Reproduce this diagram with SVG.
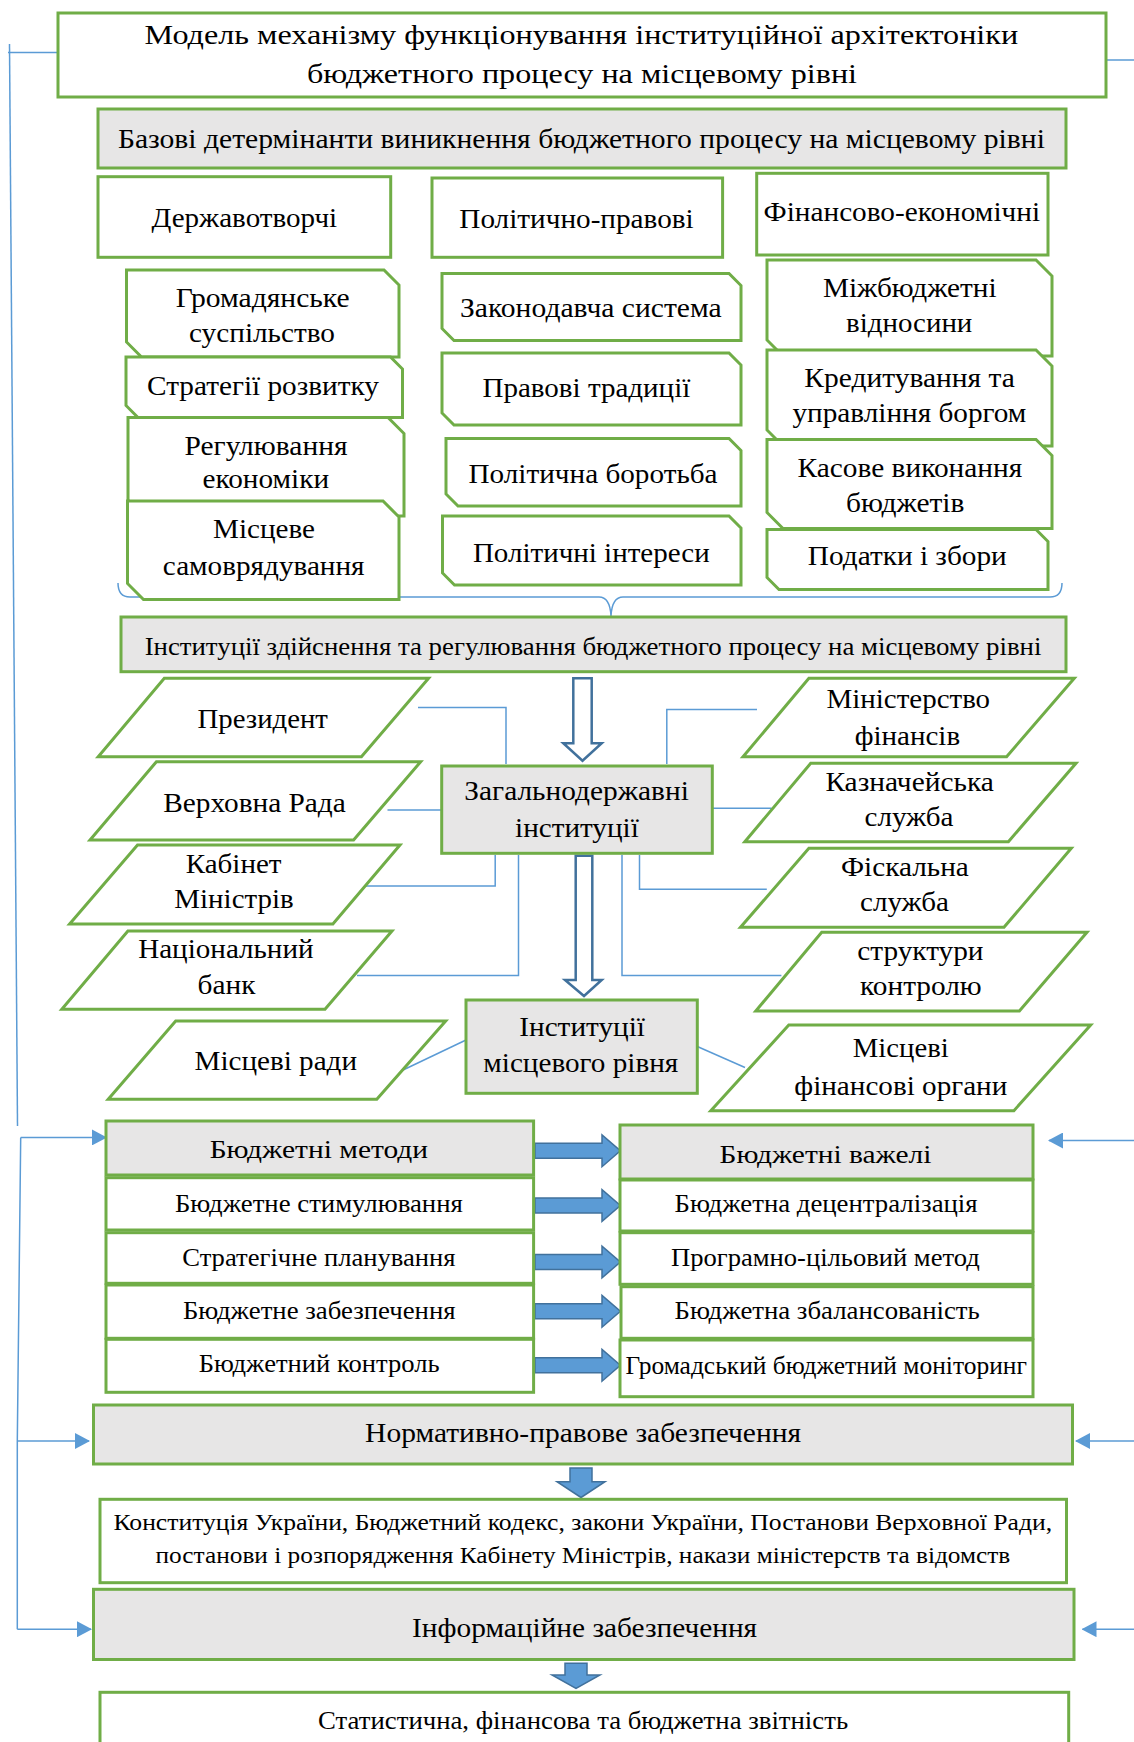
<svg xmlns="http://www.w3.org/2000/svg" width="1134" height="1742" viewBox="0 0 1134 1742">
  <style>
    .box { fill: #ffffff; stroke: #70AD47; stroke-width: 3; }
    .gray { fill: #E7E6E6; }
    .t { font-family: "Liberation Serif", "Times New Roman", serif; fill: #000000; text-anchor: middle; }
    .s28 { font-size: 28px; }
    .s27 { font-size: 27px; }
    .s26 { font-size: 26px; }
    .s25 { font-size: 25px; }
    .s24 { font-size: 24px; }
    .ln { fill: none; stroke: #5B9BD5; stroke-width: 1.5; }
    .hollow { fill: #ffffff; stroke: #41719C; stroke-width: 2.5; }
    .solid { fill: #5B9BD5; stroke: #41719C; stroke-width: 1.5; }
  </style>
  <defs>
    <marker id="tri" markerUnits="userSpaceOnUse" markerWidth="15" markerHeight="16" refX="14" refY="8" orient="auto">
      <path d="M0,0 L15,8 L0,16 z" fill="#5B9BD5"/>
    </marker>
  </defs>

  <!-- connectors -->
  <g id="connectors">
    <!-- outer feedback lines -->
    <path class="ln" d="M8,52.4 H58"/>
    <path class="ln" d="M9.5,44 L17.5,1126"/>
    <path class="ln" d="M1106,60 H1134"/>
    <path class="ln" d="M20.7,1137.4 L17.3,1441 V1629.2"/>
    <path class="ln" d="M20.7,1137.4 H106" marker-end="url(#tri)"/>
    <path class="ln" d="M17.3,1441 H89" marker-end="url(#tri)"/>
    <path class="ln" d="M17.3,1629.2 H91" marker-end="url(#tri)"/>
    <path class="ln" d="M1134,1140.5 H1049" marker-end="url(#tri)"/>
    <path class="ln" d="M1134,1441 H1076" marker-end="url(#tri)"/>
    <path class="ln" d="M1134,1629.2 H1082.5" marker-end="url(#tri)"/>

    <!-- brace under the determinants -->
    <path class="ln" d="M118,583 Q118,597 130,597 L599,597 Q610,597 611,616 Q612,597 623,597 L1050,597 Q1062,597 1062,583"/>

    <!-- hollow arrows -->
    <polygon class="hollow" points="573.3,678.3 591.7,678.3 591.7,743.3 601.7,743.3 582.5,760.7 563.3,743.3 573.3,743.3"/>
    <polygon class="hollow" points="575.7,855.7 592.3,855.7 592.3,980 601.7,980 584,996 565,980 575.7,980"/>

    <!-- links to state institutions -->
    <path class="ln" d="M418,707.5 H506 V764"/>
    <path class="ln" d="M387.5,810 H441.8"/>
    <path class="ln" d="M495.2,855 V886 H366"/>
    <path class="ln" d="M518.5,855 V975.5 H357"/>
    <path class="ln" d="M757,709.5 H666.8 V764"/>
    <path class="ln" d="M712,808.3 H771.6"/>
    <path class="ln" d="M639.5,855 V889.3 H766.8"/>
    <path class="ln" d="M622,855 V975.5 H781.4"/>
    <path class="ln" d="M466,1040 L402,1070.5"/>
    <path class="ln" d="M697.3,1046.5 L745,1067.5"/>

    <!-- method to lever arrows -->
    <polygon class="solid" points="535,1143.3 602,1143.3 602,1135 620.4,1150.8 602,1166.7 602,1158.3 535,1158.3"/>
    <polygon class="solid" points="535,1198 602,1198 602,1189.7 620.4,1205.5 602,1221.4 602,1213 535,1213"/>
    <polygon class="solid" points="535,1254.5 602,1254.5 602,1246.2 620.4,1262 602,1277.9 602,1269.5 535,1269.5"/>
    <polygon class="solid" points="535,1303.8 602,1303.8 602,1295.5 620.4,1311.3 602,1327.2 602,1318.8 535,1318.8"/>
    <polygon class="solid" points="535,1357.8 602,1357.8 602,1349.5 620.4,1365.3 602,1381.2 602,1372.8 535,1372.8"/>

    <!-- downward arrows -->
    <polygon class="solid" points="570,1468 592,1468 592,1481.7 605,1481.7 581,1497.5 557,1481.7 570,1481.7"/>
    <polygon class="solid" points="565,1663.3 587,1663.3 587,1675 600,1675 576,1688.5 552,1675 565,1675"/>
  </g>

  <!-- header -->
  <g id="title">
    <rect class="box" x="58" y="13" width="1048" height="84"/>
    <text class="t s28" x="581.4" y="43.5" textLength="873.6" lengthAdjust="spacingAndGlyphs">Модель механізму функціонування інституційної архітектоніки</text>
    <text class="t s28" x="582" y="82.5" textLength="550" lengthAdjust="spacingAndGlyphs">бюджетного процесу на місцевому рівні</text>
  </g>

  <g id="determinants">
    <rect class="box gray" x="98" y="109" width="968" height="59"/>
    <text class="t s27" x="581.4" y="148" textLength="927" lengthAdjust="spacingAndGlyphs">Базові детермінанти виникнення бюджетного процесу на місцевому рівні</text>
  </g>

  <!-- determinant groups -->
  <g id="state-building">
    <rect class="box" x="98" y="176.7" width="292.7" height="80.6"/>
    <text class="t s27" x="244.3" y="226.7" textLength="185.7" lengthAdjust="spacingAndGlyphs">Державотворчі</text>
  </g>
  <g id="political-legal">
    <rect class="box" x="432" y="178" width="290.6" height="79.3"/>
    <text class="t s27" x="576.5" y="228.3" textLength="234.4" lengthAdjust="spacingAndGlyphs">Політично-правові</text>
  </g>
  <g id="financial-economic">
    <rect class="box" x="756.7" y="173.3" width="291.3" height="81.7"/>
    <text class="t s27" x="901.8" y="220.7" textLength="276.5" lengthAdjust="spacingAndGlyphs">Фінансово-економічні</text>
  </g>

  <!-- state-building factors -->
  <g id="civil-society">
    <polygon class="box" points="126.5,270 384,270 399,285 399,357 141.5,357 126.5,342"/>
    <text class="t s27" x="262.7" y="306.7" textLength="174" lengthAdjust="spacingAndGlyphs">Громадянське</text>
    <text class="t s27" x="262" y="341.7" textLength="146" lengthAdjust="spacingAndGlyphs">суспільство</text>
  </g>
  <g id="development-strategies">
    <polygon class="box" points="126,357 390.5,357 402.5,369 402.5,417.5 138,417.5 126,405.5"/>
    <text class="t s27" x="263" y="395" textLength="232" lengthAdjust="spacingAndGlyphs">Стратегії розвитку</text>
  </g>
  <g id="economic-regulation">
    <polygon class="box" points="128,417.5 388,417.5 404,433.5 404,516 144,516 128,500"/>
    <text class="t s27" x="266" y="455" textLength="163" lengthAdjust="spacingAndGlyphs">Регулювання</text>
    <text class="t s27" x="265.8" y="488.3" textLength="126.5" lengthAdjust="spacingAndGlyphs">економіки</text>
  </g>
  <g id="local-self-government">
    <polygon class="box" points="127.5,501 383,501 399,517 399,599.5 143.5,599.5 127.5,583.5"/>
    <text class="t s27" x="264" y="538.3" textLength="102" lengthAdjust="spacingAndGlyphs">Місцеве</text>
    <text class="t s27" x="263.7" y="575" textLength="201.7" lengthAdjust="spacingAndGlyphs">самоврядування</text>
  </g>

  <!-- political-legal factors -->
  <g id="legislative-system">
    <polygon class="box" points="442,273.5 729,273.5 741,285.5 741,340.5 454,340.5 442,328.5"/>
    <text class="t s27" x="590.8" y="316.7" textLength="261.6" lengthAdjust="spacingAndGlyphs">Законодавча система</text>
  </g>
  <g id="legal-traditions">
    <polygon class="box" points="442,353 729,353 741,365 741,425 454,425 442,413"/>
    <text class="t s27" x="586.4" y="396.7" textLength="207.8" lengthAdjust="spacingAndGlyphs">Правові традиції</text>
  </g>
  <g id="political-struggle">
    <polygon class="box" points="446,438.5 729,438.5 741,450.5 741,506 458,506 446,494"/>
    <text class="t s27" x="593" y="483.3" textLength="249" lengthAdjust="spacingAndGlyphs">Політична боротьба</text>
  </g>
  <g id="political-interests">
    <polygon class="box" points="442.5,516 729,516 741,528 741,585 454.5,585 442.5,573"/>
    <text class="t s27" x="591.3" y="561.7" textLength="236.8" lengthAdjust="spacingAndGlyphs">Політичні інтереси</text>
  </g>

  <!-- financial-economic factors -->
  <g id="interbudget-relations">
    <polygon class="box" points="767,260 1036,260 1052,276 1052,356 783,356 767,340"/>
    <text class="t s27" x="909.8" y="296.7" textLength="173.7" lengthAdjust="spacingAndGlyphs">Міжбюджетні</text>
    <text class="t s27" x="909.2" y="331.7" textLength="126.3" lengthAdjust="spacingAndGlyphs">відносини</text>
  </g>
  <g id="crediting-debt">
    <polygon class="box" points="767,350 1036,350 1052,366 1052,446 783,446 767,430"/>
    <text class="t s27" x="909.6" y="386.7" textLength="210.5" lengthAdjust="spacingAndGlyphs">Кредитування та</text>
    <text class="t s27" x="909.4" y="421.7" textLength="234" lengthAdjust="spacingAndGlyphs">управління боргом</text>
  </g>
  <g id="cash-execution">
    <polygon class="box" points="767,439.5 1036,439.5 1052,455.5 1052,528.5 783,528.5 767,512.5"/>
    <text class="t s27" x="909.9" y="476.7" textLength="224.8" lengthAdjust="spacingAndGlyphs">Касове виконання</text>
    <text class="t s27" x="905.2" y="511.7" textLength="118.5" lengthAdjust="spacingAndGlyphs">бюджетів</text>
  </g>
  <g id="taxes-fees">
    <polygon class="box" points="767,529.5 1036,529.5 1048,541.5 1048,589.5 779,589.5 767,577.5"/>
    <text class="t s27" x="907.3" y="565" textLength="199" lengthAdjust="spacingAndGlyphs">Податки і збори</text>
  </g>

  <!-- institutions -->
  <g id="institutions">
    <rect class="box gray" x="121" y="617" width="945" height="54.7"/>
    <text class="t s25" x="593" y="655" textLength="896.7" lengthAdjust="spacingAndGlyphs">Інституції здійснення та регулювання бюджетного процесу на місцевому рівні</text>
  </g>

  <g id="state-institutions">
    <rect class="box gray" x="441.7" y="766" width="270.6" height="87.3"/>
    <text class="t s27" x="576.6" y="800" textLength="224.5" lengthAdjust="spacingAndGlyphs">Загальнодержавні</text>
    <text class="t s27" x="576.9" y="836.7" textLength="123.7" lengthAdjust="spacingAndGlyphs">інституції</text>
  </g>
  <g id="local-institutions">
    <rect class="box gray" x="466" y="1000" width="231.3" height="93.3"/>
    <text class="t s27" x="582.1" y="1035.7" textLength="125.7" lengthAdjust="spacingAndGlyphs">Інституції</text>
    <text class="t s27" x="580.8" y="1071.7" textLength="195" lengthAdjust="spacingAndGlyphs">місцевого рівня</text>
  </g>

  <g id="president">
    <polygon class="box" points="164.3,678.3 428.6,678.3 361.4,756.7 98.2,756.7"/>
    <text class="t s27" x="262.7" y="728.3" textLength="130.4" lengthAdjust="spacingAndGlyphs">Президент</text>
  </g>
  <g id="verkhovna-rada">
    <polygon class="box" points="156.4,761.7 420.7,761.7 353.6,840 90,840"/>
    <text class="t s27" x="254.5" y="811.7" textLength="182.5" lengthAdjust="spacingAndGlyphs">Верховна Рада</text>
  </g>
  <g id="cabinet">
    <polygon class="box" points="137.5,845 400,845 332.9,924 69.6,924"/>
    <text class="t s27" x="233.6" y="873.3" textLength="95.7" lengthAdjust="spacingAndGlyphs">Кабінет</text>
    <text class="t s27" x="234" y="908.3" textLength="119.3" lengthAdjust="spacingAndGlyphs">Міністрів</text>
  </g>
  <g id="national-bank">
    <polygon class="box" points="127.9,931 392,931 325,1009.3 61.8,1009.3"/>
    <text class="t s27" x="225.9" y="958.3" textLength="175.4" lengthAdjust="spacingAndGlyphs">Національний</text>
    <text class="t s27" x="226.5" y="994" textLength="57.9" lengthAdjust="spacingAndGlyphs">банк</text>
  </g>
  <g id="local-councils">
    <polygon class="box" points="175.7,1021 445.7,1021 376.8,1099.3 108.2,1099.3"/>
    <text class="t s27" x="275.8" y="1070" textLength="162.5" lengthAdjust="spacingAndGlyphs">Місцеві ради</text>
  </g>

  <g id="ministry-finance">
    <polygon class="box" points="808.9,678.3 1074.3,678.3 1006.6,756.7 743,756.7"/>
    <text class="t s27" x="908.3" y="708.3" textLength="163.6" lengthAdjust="spacingAndGlyphs">Міністерство</text>
    <text class="t s27" x="907.4" y="745" textLength="105.4" lengthAdjust="spacingAndGlyphs">фінансів</text>
  </g>
  <g id="treasury">
    <polygon class="box" points="810.7,763.3 1076,763.3 1008.4,841.7 744.8,841.7"/>
    <text class="t s27" x="909.6" y="790.7" textLength="168.4" lengthAdjust="spacingAndGlyphs">Казначейська</text>
    <text class="t s27" x="909" y="826" textLength="89" lengthAdjust="spacingAndGlyphs">служба</text>
  </g>
  <g id="fiscal-service">
    <polygon class="box" points="808.9,848.3 1071.3,848.3 1004,927.3 740.5,927.3"/>
    <text class="t s27" x="904.9" y="876" textLength="127.8" lengthAdjust="spacingAndGlyphs">Фіскальна</text>
    <text class="t s27" x="904.5" y="910.7" textLength="89" lengthAdjust="spacingAndGlyphs">служба</text>
  </g>
  <g id="control-structures">
    <polygon class="box" points="821.7,932.3 1087,932.3 1019.4,1011 755.8,1011"/>
    <text class="t s27" x="920.4" y="960" textLength="126.3" lengthAdjust="spacingAndGlyphs">структури</text>
    <text class="t s27" x="920.9" y="995" textLength="121.7" lengthAdjust="spacingAndGlyphs">контролю</text>
  </g>
  <g id="local-finance-bodies">
    <polygon class="box" points="788.8,1025 1090.7,1025 1013.9,1110.7 710.8,1110.7"/>
    <text class="t s27" x="900.8" y="1056.7" textLength="95.9" lengthAdjust="spacingAndGlyphs">Місцеві</text>
    <text class="t s27" x="900.8" y="1095" textLength="213" lengthAdjust="spacingAndGlyphs">фінансові органи</text>
  </g>

  <!-- budget methods -->
  <g id="methods">
    <rect class="box gray" x="106" y="1121" width="427.6" height="54"/>
    <text class="t s26" x="318.9" y="1157.5" textLength="218.4" lengthAdjust="spacingAndGlyphs">Бюджетні методи</text>
  </g>
  <g id="stimulation">
    <rect class="box" x="106" y="1177.7" width="427.6" height="52.3"/>
    <text class="t s26" x="318.9" y="1212" textLength="287.8" lengthAdjust="spacingAndGlyphs">Бюджетне стимулювання</text>
  </g>
  <g id="strategic-planning">
    <rect class="box" x="106" y="1232.7" width="427.6" height="50.6"/>
    <text class="t s26" x="318.9" y="1265.5" textLength="273.3" lengthAdjust="spacingAndGlyphs">Стратегічне планування</text>
  </g>
  <g id="provision">
    <rect class="box" x="106" y="1285" width="427.6" height="53.3"/>
    <text class="t s26" x="319.3" y="1318.8" textLength="272.6" lengthAdjust="spacingAndGlyphs">Бюджетне забезпечення</text>
  </g>
  <g id="control">
    <rect class="box" x="106" y="1339.3" width="427.6" height="53"/>
    <text class="t s26" x="319.2" y="1372.2" textLength="240.8" lengthAdjust="spacingAndGlyphs">Бюджетний контроль</text>
  </g>

  <!-- budget levers -->
  <g id="levers">
    <rect class="box gray" x="620" y="1125" width="413" height="54"/>
    <text class="t s26" x="825.5" y="1162.5" textLength="211.9" lengthAdjust="spacingAndGlyphs">Бюджетні важелі</text>
  </g>
  <g id="decentralization">
    <rect class="box" x="620" y="1180" width="413" height="51"/>
    <text class="t s26" x="826.1" y="1212" textLength="303" lengthAdjust="spacingAndGlyphs">Бюджетна децентралізація</text>
  </g>
  <g id="program-target">
    <rect class="box" x="620" y="1232.7" width="413" height="51.6"/>
    <text class="t s26" x="825.4" y="1265.5" textLength="308.8" lengthAdjust="spacingAndGlyphs">Програмно-цільовий метод</text>
  </g>
  <g id="balance">
    <rect class="box" x="621" y="1286.7" width="412" height="51.6"/>
    <text class="t s26" x="827.2" y="1318.8" textLength="305.2" lengthAdjust="spacingAndGlyphs">Бюджетна збалансованість</text>
  </g>
  <g id="monitoring">
    <rect class="box" x="620" y="1340" width="413" height="56.7"/>
    <text class="t s26" x="826.2" y="1373.8" textLength="401.3" lengthAdjust="spacingAndGlyphs">Громадський бюджетний моніторинг</text>
  </g>

  <!-- support blocks -->
  <g id="legal-support">
    <rect class="box gray" x="93.5" y="1405" width="979" height="59"/>
    <text class="t s27" x="583.1" y="1442" textLength="436" lengthAdjust="spacingAndGlyphs">Нормативно-правове забезпечення</text>
  </g>
  <g id="legal-acts">
    <rect class="box" x="100" y="1499.3" width="966.5" height="83.4"/>
    <text class="t s24" x="582.8" y="1530" textLength="938.5" lengthAdjust="spacingAndGlyphs">Конституція України, Бюджетний кодекс, закони України, Постанови Верховної Ради,</text>
    <text class="t s24" x="582.9" y="1563.3" textLength="854.7" lengthAdjust="spacingAndGlyphs">постанови і розпорядження Кабінету Міністрів, накази міністерств та відомств</text>
  </g>
  <g id="information-support">
    <rect class="box gray" x="93.5" y="1589.3" width="980.5" height="70.2"/>
    <text class="t s27" x="584.6" y="1637" textLength="345" lengthAdjust="spacingAndGlyphs">Інформаційне забезпечення</text>
  </g>
  <g id="reporting">
    <rect class="box" x="100" y="1692.3" width="968.7" height="60"/>
    <text class="t s26" x="583.1" y="1728.5" textLength="530" lengthAdjust="spacingAndGlyphs">Статистична, фінансова та бюджетна звітність</text>
  </g>
</svg>
